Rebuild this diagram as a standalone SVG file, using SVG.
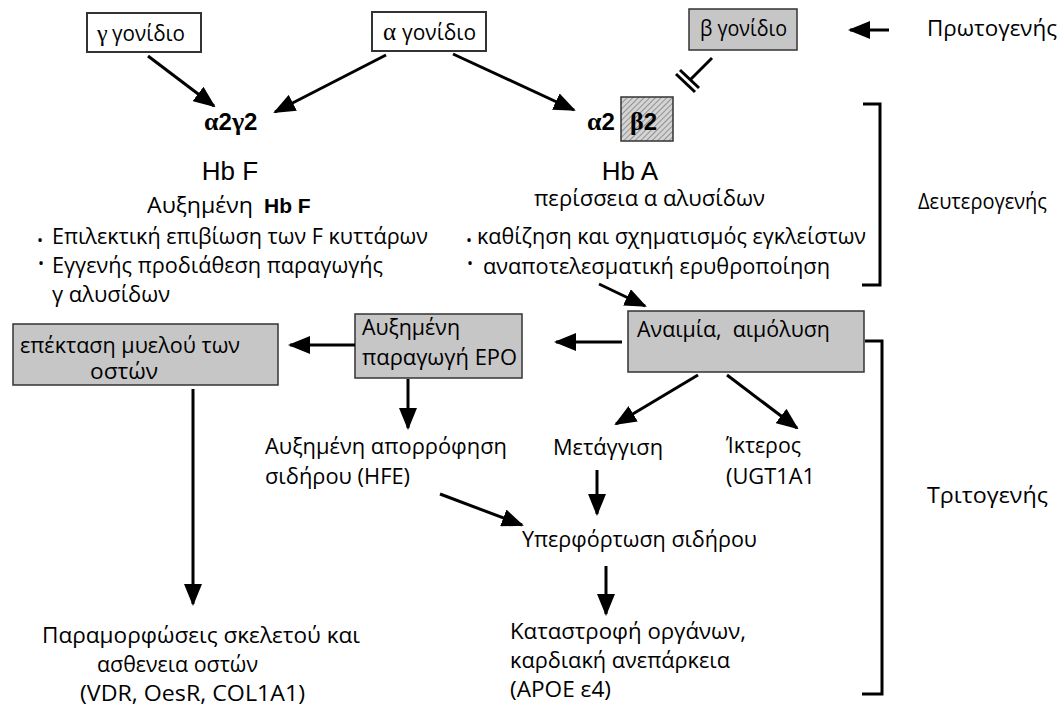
<svg xmlns="http://www.w3.org/2000/svg" width="1061" height="706" viewBox="0 0 1061 706">
<style>
.t{font-family:"Open Sans","Liberation Sans",sans-serif;font-size:21px;fill:#000}
.a{font-family:"Liberation Sans",Arial,sans-serif;fill:#000}
.s{font-family:"Liberation Serif",serif;fill:#000}
.box{fill:#fff;stroke:#333;stroke-width:2}
.gbox{fill:#c6c6c6;stroke:#333;stroke-width:1.5}
.ln{stroke:#000;stroke-width:3;fill:none}
.b{font-family:"Open Sans","Liberation Sans",sans-serif;font-size:16px;fill:#000}
</style>
<defs>
<marker id="ah" markerUnits="userSpaceOnUse" markerWidth="22" markerHeight="18" refX="20" refY="9" orient="auto">
<path d="M0,0 L22,9 L0,18 z" fill="#000"/>
</marker>
<pattern id="hatch" patternUnits="userSpaceOnUse" width="4" height="4" patternTransform="rotate(45)">
<rect width="4" height="4" fill="#d4d4d4"/>
<line x1="0" y1="0" x2="0" y2="4" stroke="#666" stroke-width="1.2"/>
</pattern>
</defs>

<g id="gamma-gene">
<rect class="box" x="87" y="13" width="114" height="39"/>
<text class="s" x="97" y="41" font-size="24">γ</text>
<text class="t" x="112" y="41" textLength="73" lengthAdjust="spacingAndGlyphs">γονίδιο</text>
</g>
<g id="alpha-gene">
<rect class="box" x="372" y="12" width="114" height="39"/>
<text class="s" x="383" y="40" font-size="25">α</text>
<text class="t" x="402" y="40" textLength="74" lengthAdjust="spacingAndGlyphs">γονίδιο</text>
</g>
<g id="beta-gene">
<rect class="gbox" x="689" y="9" width="108" height="41"/>
<text class="t" x="700" y="36" textLength="87" lengthAdjust="spacingAndGlyphs">β γονίδιο</text>
</g>
<g id="primary-label">
<text class="t" x="927" y="36" font-size="22" textLength="130" lengthAdjust="spacingAndGlyphs">Πρωτογενής</text>
</g>

<g id="a2g2">
<text x="204" y="130" font-size="24" font-weight="bold"><tspan class="s" font-size="26">α</tspan><tspan class="a">2</tspan><tspan class="s" font-size="26">γ</tspan><tspan class="a">2</tspan></text>
</g>
<g id="a2b2">
<text x="587" y="130" font-size="24" font-weight="bold"><tspan class="s" font-size="26">α</tspan><tspan class="a">2</tspan></text>
<rect x="621" y="97" width="52" height="44" fill="url(#hatch)" stroke="#333" stroke-width="1.5"/>
<text x="630" y="130" font-size="24" font-weight="bold"><tspan class="s" font-size="26">β</tspan><tspan class="a">2</tspan></text>
</g>

<g id="hbf">
<text class="a" x="230" y="180" font-size="26" text-anchor="middle">Hb F</text>
<text class="t" x="147" y="213" textLength="106" lengthAdjust="spacingAndGlyphs">Αυξημένη</text>
<text class="a" x="264" y="213" font-size="21" font-weight="bold">Hb F</text>
<text class="b" x="37" y="246">•</text>
<text class="t" x="52" y="244" textLength="376" lengthAdjust="spacingAndGlyphs">Επιλεκτική επιβίωση των F κυττάρων</text>
<text class="b" x="38" y="269">•</text>
<text class="t" x="52" y="273" textLength="331" lengthAdjust="spacingAndGlyphs">Εγγενής προδιάθεση παραγωγής</text>
<text class="t" x="52" y="302" textLength="118" lengthAdjust="spacingAndGlyphs">γ αλυσίδων</text>
</g>

<g id="hba">
<text class="a" x="630" y="180" font-size="26" text-anchor="middle">Hb A</text>
<text class="t" x="534" y="206" textLength="231" lengthAdjust="spacingAndGlyphs">περίσσεια α αλυσίδων</text>
<text class="b" x="466" y="246">•</text>
<text class="t" x="477" y="244" textLength="389" lengthAdjust="spacingAndGlyphs">καθίζηση και σχηματισμός εγκλείστων</text>
<text class="b" x="467" y="269">•</text>
<text class="t" x="483" y="274" textLength="347" lengthAdjust="spacingAndGlyphs">αναποτελεσματική ερυθροποίηση</text>
</g>

<g id="secondary-label">
<text class="t" x="918" y="209" textLength="129" lengthAdjust="spacingAndGlyphs">Δευτερογενής</text>
</g>

<g id="marrow">
<rect class="gbox" x="13" y="324" width="265" height="61"/>
<text class="t" x="20" y="353" textLength="220" lengthAdjust="spacingAndGlyphs">επέκταση μυελού των</text>
<text class="t" x="90" y="379" textLength="68" lengthAdjust="spacingAndGlyphs">οστών</text>
</g>
<g id="epo">
<rect class="gbox" x="355" y="314" width="167" height="64"/>
<text class="t" x="362" y="335" textLength="98" lengthAdjust="spacingAndGlyphs">Αυξημένη</text>
<text class="t" x="362" y="365" textLength="155" lengthAdjust="spacingAndGlyphs">παραγωγή EPO</text>
</g>
<g id="anemia">
<rect class="gbox" x="628" y="311" width="236" height="61"/>
<text class="t" x="637" y="337" xml:space="preserve" textLength="193" lengthAdjust="spacingAndGlyphs">Αναιμία,  αιμόλυση</text>
</g>

<g id="iron-absorption">
<text class="t" x="265" y="454" textLength="242" lengthAdjust="spacingAndGlyphs">Αυξημένη απορρόφηση</text>
<text class="t" x="265" y="484" textLength="145" lengthAdjust="spacingAndGlyphs">σιδήρου (HFE)</text>
</g>
<g id="transfusion">
<text class="t" x="553" y="455" textLength="110" lengthAdjust="spacingAndGlyphs">Μετάγγιση</text>
</g>
<g id="jaundice">
<text class="t" x="726" y="453" textLength="75" lengthAdjust="spacingAndGlyphs">Ίκτερος</text>
<text class="t" x="726" y="484" textLength="89" lengthAdjust="spacingAndGlyphs">(UGT1A1</text>
</g>
<g id="iron-overload">
<text class="t" x="522" y="547" textLength="235" lengthAdjust="spacingAndGlyphs">Υπερφόρτωση σιδήρου</text>
</g>
<g id="organ-damage">
<text class="t" x="510" y="639" textLength="236" lengthAdjust="spacingAndGlyphs">Καταστροφή οργάνων,</text>
<text class="t" x="510" y="668" textLength="220" lengthAdjust="spacingAndGlyphs">καρδιακή ανεπάρκεια</text>
<text class="t" x="510" y="697" textLength="101" lengthAdjust="spacingAndGlyphs">(APOE ε4)</text>
</g>
<g id="skeletal">
<text class="t" x="42" y="643" textLength="318" lengthAdjust="spacingAndGlyphs">Παραμορφώσεις σκελετού και</text>
<text class="t" x="97" y="672" textLength="161" lengthAdjust="spacingAndGlyphs">ασθενεια οστών</text>
<text class="t" x="80" y="701" textLength="225" lengthAdjust="spacingAndGlyphs">(VDR, OesR, COL1A1)</text>
</g>
<g id="tertiary-label">
<text class="t" x="927" y="503" textLength="121" lengthAdjust="spacingAndGlyphs">Τριτογενής</text>
</g>

<g id="connectors">
<line class="ln" x1="148" y1="56" x2="214" y2="106" marker-end="url(#ah)"/>
<line class="ln" x1="386" y1="55" x2="275" y2="112" marker-end="url(#ah)"/>
<line class="ln" x1="453" y1="54" x2="574" y2="110" marker-end="url(#ah)"/>
<line class="ln" x1="889" y1="30" x2="850" y2="30" marker-end="url(#ah)"/>
<line class="ln" x1="712" y1="58" x2="690" y2="80"/>
<line class="ln" x1="676" y1="74" x2="695" y2="92" stroke-width="2.5"/>
<line class="ln" x1="680" y1="70" x2="699" y2="88" stroke-width="2.5"/>
<line class="ln" x1="599" y1="284" x2="645" y2="306" marker-end="url(#ah)"/>
<line class="ln" x1="622" y1="342" x2="556" y2="342" marker-end="url(#ah)"/>
<line class="ln" x1="355" y1="345" x2="290" y2="345" marker-end="url(#ah)"/>
<line class="ln" x1="408" y1="379" x2="408" y2="428" marker-end="url(#ah)"/>
<line class="ln" x1="193" y1="389" x2="193" y2="604" marker-end="url(#ah)"/>
<line class="ln" x1="698" y1="375" x2="616" y2="424" marker-end="url(#ah)"/>
<line class="ln" x1="727" y1="375" x2="797" y2="428" marker-end="url(#ah)"/>
<line class="ln" x1="597" y1="470" x2="597" y2="514" marker-end="url(#ah)"/>
<line class="ln" x1="440" y1="494" x2="522" y2="525" marker-end="url(#ah)"/>
<line class="ln" x1="606" y1="566" x2="606" y2="614" marker-end="url(#ah)"/>
<polyline class="ln" points="863,104 880,104 880,285 862,285"/>
<polyline class="ln" points="865,341 882,341 882,694 862,694"/>
</g>
</svg>
